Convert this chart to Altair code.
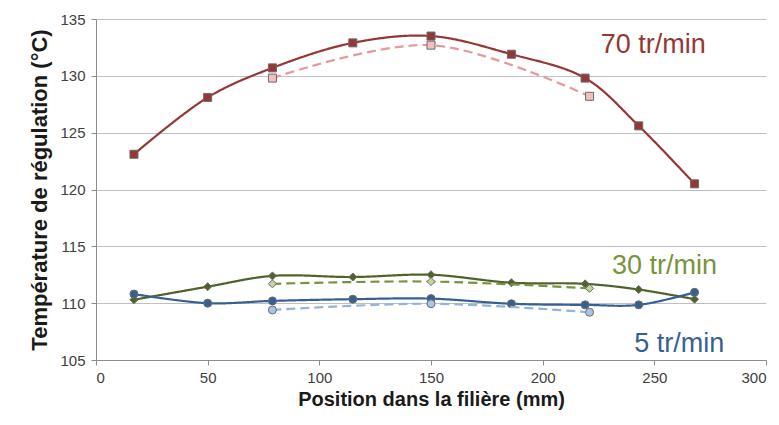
import altair as alt
import pandas as pd

# ---- data ----
x_full = [17, 50, 79, 115, 150, 186, 219, 243, 268]
x_dash = [79, 150, 221]

red_solid = [123.1, 128.1, 130.7, 132.9, 133.5, 131.9, 129.8, 125.6, 120.5]
red_dash = [129.8, 132.7, 128.2]
green_solid = [110.3, 111.45, 112.4, 112.3, 112.5, 111.8, 111.7, 111.2, 110.35]
green_dash = [111.7, 111.9, 111.3]
blue_solid = [110.8, 110.0, 110.2, 110.35, 110.4, 109.95, 109.85, 109.85, 110.95]
blue_dash = [109.4, 109.95, 109.2]

label_text = ["70 tr/min", "30 tr/min", "5 tr/min"]
label_x = [226, 231, 241]
label_y = [132.7, 113.3, 106.4]
label_color = ["#953735", "#77933C", "#376092"]

series_names = ["red_s", "red_d", "green_s", "green_d", "blue_s", "blue_d"]
line_colors = ["#953735", "#E39A99", "#4F6228", "#77933C", "#376092", "#95B3D7"]
fill_colors = ["#953735", "#F2BFBF", "#4F6228", "#C3D69B", "#376092", "#A9C4E6"]
dashes = [[1, 0], [9, 5], [1, 0], [9, 5], [1, 0], [9, 5]]
shapes = ["square", "square", "diamond", "diamond", "circle", "circle"]
sizes = [64, 64, 110, 110, 75, 75]

rows = []
for name, xs, ys in [
    ("red_s", x_full, red_solid), ("green_s", x_full, green_solid), ("blue_s", x_full, blue_solid),
    ("red_d", x_dash, red_dash), ("green_d", x_dash, green_dash), ("blue_d", x_dash, blue_dash),
]:
    for i, (xv, yv) in enumerate(zip(xs, ys)):
        rows.append({"series": name, "x": xv, "y": yv, "order": i})
df = pd.DataFrame(rows)

labels = pd.DataFrame({"text": label_text, "x": label_x, "y": label_y, "color": label_color})

FONT = "Liberation Sans"

xscale = alt.Scale(domain=[0, 300], nice=False, zero=False)
yscale = alt.Scale(domain=[105, 135], nice=False, zero=False)

base = alt.Chart(df)

lines = []
pts = []
for grp in ["_s", "_d"]:
    sub = [s for s in series_names if s.endswith(grp)]
    d = base.transform_filter(alt.FieldOneOfPredicate(field="series", oneOf=sub))
    lines.append(
        d.mark_line(interpolate="catmull-rom", strokeWidth=2.2).encode(
            x=alt.X("x:Q", scale=xscale,
                    axis=alt.Axis(values=[0, 50, 100, 150, 200, 250, 300],
                                  title="Position dans la filière (mm)", grid=False,
                                  titleFontSize=20)),
            y=alt.Y("y:Q", scale=yscale,
                    axis=alt.Axis(values=[105, 110, 115, 120, 125, 130, 135],
                                  title="Température de régulation (°C)", titleFontSize=22)),
            color=alt.Color("series:N", scale=alt.Scale(domain=series_names, range=line_colors), legend=None),
            strokeDash=alt.StrokeDash("series:N", scale=alt.Scale(domain=series_names, range=dashes), legend=None),
            detail="series:N",
            order="order:Q",
        )
    )
    pts.append(
        d.mark_point(filled=True, opacity=1, stroke="#6b6b6b", strokeWidth=1).encode(
            x=alt.X("x:Q", scale=xscale),
            y=alt.Y("y:Q", scale=yscale),
            fill=alt.Fill("series:N", scale=alt.Scale(domain=series_names, range=fill_colors), legend=None),
            shape=alt.Shape("series:N", scale=alt.Scale(domain=series_names, range=shapes), legend=None),
            size=alt.Size("series:N", scale=alt.Scale(domain=series_names, range=sizes), legend=None),
        )
    )

text = alt.Chart(labels).mark_text(align="left", baseline="middle", fontSize=27, font=FONT).encode(
    x=alt.X("x:Q", scale=xscale),
    y=alt.Y("y:Q", scale=yscale),
    text="text:N",
    color=alt.Color("color:N", scale=None),
)

chart = alt.layer(lines[0], pts[0], lines[1], pts[1], text).resolve_scale(
    color="independent", fill="independent", shape="independent", size="independent", strokeDash="independent"
).properties(
    width=670, height=341,
    autosize=alt.AutoSizeParams(type="none"),
    padding={"left": 88, "top": 11, "right": 5, "bottom": 53},
    background="white",
).configure_view(stroke=None).configure_axis(
    labelFont=FONT, titleFont=FONT, labelFontSize=15, labelColor="#404040",
    titleFontWeight="bold", titleColor="#1a1a1a",
    domainColor="#8c8c8c", tickColor="#8c8c8c", gridColor="#bfbfbf", tickSize=5,
    labelPadding=6,
).configure_axisY(titlePadding=8, domain=True).configure_axisX(titlePadding=4, labelPadding=5)

chart.save("out.html", embed_options={"renderer": "svg", "actions": False})
